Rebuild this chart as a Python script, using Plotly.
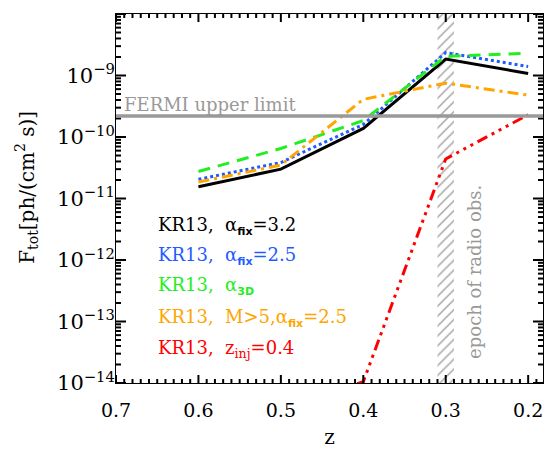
import numpy as np
import plotly.graph_objects as go

# ---------------- data ----------------
z = [0.6, 0.5, 0.4, 0.3, 0.2]
f_a32 = [1.55e-11, 3.0e-11, 1.38e-10, 1.85e-9, 1.08e-9]      # KR13, alpha_fix=3.2
f_a25 = [2.05e-11, 3.85e-11, 1.6e-10, 2.35e-9, 1.4e-9]      # KR13, alpha_fix=2.5
f_a3d = [2.75e-11, 6.5e-11, 1.85e-10, 2.05e-9, 2.3e-9]      # KR13, alpha_3D
f_m5 = [1.85e-11, 3.5e-11, 4.1e-10, 7.5e-10, 4.8e-10]       # KR13, M>5, alpha_fix=2.5
z_inj = [0.5, 0.4, 0.3, 0.2]
f_inj = [4.0e-15, 1.05e-14, 4.4e-11, 2.3e-10]               # KR13, z_inj=0.4
FERMI_LIMIT = 2.2e-10
RADIO_EPOCH = [0.31, 0.29]

SUB = "<sub><span style='font-family:DejaVu Sans;font-weight:bold;font-size:11px'>%s</span></sub>"
labels = [
    "KR13,  α" + SUB % "fix" + "=3.2",
    "KR13,  α" + SUB % "fix" + "=2.5",
    "KR13,  α" + SUB % "3D",
    "KR13,  M>5,α" + SUB % "fix" + "=2.5",
    "KR13,  z<sub>inj</sub>=0.4",
]
colors = ["#000000", "#1f5cff", "#22ee22", "#ffa500", "#ff0000"]

xtick_vals = [0.7, 0.6, 0.5, 0.4, 0.3, 0.2]
xtick_text = ["0.7", "0.6", "0.5", "0.4", "0.3", "0.2"]
ytick_exp = [-14, -13, -12, -11, -10, -9, -8]
X_RANGE = [0.7, 0.182]

SERIF = "DejaVu Serif"
W, H = 548, 449
ML, MR, MT, MB = 116, 5, 14, 66
PW, PH = W - ML - MR, H - MT - MB

fig = go.Figure()

# hatched epoch band
fig.add_trace(go.Scatter(
    x=[RADIO_EPOCH[0], RADIO_EPOCH[1], RADIO_EPOCH[1], RADIO_EPOCH[0], RADIO_EPOCH[0]],
    y=[10.0 ** ytick_exp[0], 10.0 ** ytick_exp[0], 10.0 ** ytick_exp[-1], 10.0 ** ytick_exp[-1], 10.0 ** ytick_exp[0]],
    fill="toself", mode="lines", line=dict(width=0, color="rgba(0,0,0,0)"),
    fillcolor="rgba(0,0,0,0)",
    fillpattern=dict(shape="/", fgcolor="#9a9a9a", bgcolor="rgba(0,0,0,0)", size=7, solidity=0.18),
    hoverinfo="skip", showlegend=False))

series = [
    (z, f_a32, dict(color=colors[0], width=3)),
    (z, f_a25, dict(color=colors[1], width=3, dash="dot")),
    (z, f_a3d, dict(color=colors[2], width=3, dash="12px,8px")),
    (z, f_m5, dict(color=colors[3], width=3, dash="11px,5px,3px,5px")),
    (z_inj, f_inj, dict(color=colors[4], width=3, dash="11px,5px,3px,5px,3px,5px,3px,5px")),
]
for xs, ys, ln in series:
    fig.add_trace(go.Scatter(x=xs, y=ys, mode="lines", line=ln, showlegend=False))

# tick marks (inside, all four sides), derived from the axis tick values
xspan = X_RANGE[0] - X_RANGE[1]
dec_px = PH / (ytick_exp[-1] - ytick_exp[0])
ymin, ymax = 10.0 ** ytick_exp[0], 10.0 ** ytick_exp[-1]
tx, ty = [], []
x_minor = [float(round(v, 2)) for v in np.arange(0.70, 0.18, -0.01)]
for xv in x_minor:
    L = 8 if any(abs(xv - m) < 1e-9 for m in xtick_vals) else 4
    f = 10.0 ** (L / dec_px)
    tx += [xv, xv, None, xv, xv, None]
    ty += [ymin, ymin * f, None, ymax, ymax / f, None]
y_all = [(10.0 ** e, 10) for e in ytick_exp] + \
        [(m * 10.0 ** e, 5) for e in ytick_exp[:-1] for m in range(2, 10)]
for yv, L in y_all:
    d = L * xspan / PW
    tx += [X_RANGE[0], X_RANGE[0] - d, None, X_RANGE[1], X_RANGE[1] + d, None]
    ty += [yv, yv, None, yv, yv, None]
fig.add_trace(go.Scatter(x=tx, y=ty, mode="lines", line=dict(color="black", width=2),
                         hoverinfo="skip", showlegend=False, connectgaps=False,
                         cliponaxis=False))

ann = []
ann.append(dict(text="FERMI upper limit", x=0, xref="paper", xanchor="left", xshift=6,
                y=np.log10(FERMI_LIMIT), yref="y", yanchor="bottom", yshift=-1,
                showarrow=False, font=dict(family=SERIF, size=18, color="#999999")))
ann.append(dict(text="epoch of radio obs.", x=0.265, xref="x", xanchor="center",
                y=0.30, yref="paper", yanchor="middle", textangle=-90,
                showarrow=False, font=dict(family=SERIF, size=18, color="#999999")))
leg_y = [0.426, 0.343, 0.262, 0.175, 0.093]
for lab, col, yy in zip(labels, colors, leg_y):
    ann.append(dict(text=lab, x=0.094, xref="paper", xanchor="left", y=yy, yref="paper",
                    yanchor="middle", showarrow=False, font=dict(family=SERIF, size=18, color=col)))
ann.append(dict(text="F<sub>tot</sub>[ph/(cm<sup>2</sup> s)]", x=0, xref="paper", xanchor="center",
                xshift=-89, y=0.529, yref="paper", yanchor="middle", textangle=-90,
                showarrow=False, font=dict(family=SERIF, size=20, color="black")))

fermi_line = dict(type="line", xref="x domain", yref="y", x0=0, x1=1, y0=FERMI_LIMIT, y1=FERMI_LIMIT,
                  line=dict(color="#999999", width=3.5), layer="above")

fig.update_layout(
    template="none",
    width=W, height=H,
    margin=dict(l=ML, r=MR, t=MT, b=MB),
    plot_bgcolor="white", paper_bgcolor="white",
    annotations=ann, shapes=[fermi_line],
    xaxis=dict(range=X_RANGE, tickmode="array", tickvals=xtick_vals, ticktext=xtick_text,
               ticks="inside", ticklen=8, tickwidth=1, tickcolor="black",
               showline=True, linecolor="black", linewidth=1, mirror=True,
               showgrid=False, zeroline=False, ticklabelstandoff=10,
               tickfont=dict(family=SERIF, size=19, color="black"),
               title=dict(text="z", font=dict(family=SERIF, size=20, color="black"), standoff=12)),
    yaxis=dict(type="log", range=[ytick_exp[0], ytick_exp[-1]], tickmode="array",
               tickvals=[10.0 ** e for e in ytick_exp],
               ticktext=["10<sup>−%d</sup>" % (-e) for e in ytick_exp],
               ticks="inside", ticklen=10, tickwidth=1, tickcolor="black",
               showline=True, linecolor="black", linewidth=1, mirror=True,
               showgrid=False, zeroline=False, ticklabelstandoff=-4,
               tickfont=dict(family=SERIF, size=21, color="black")),
)

fig.write_html("out.html")
